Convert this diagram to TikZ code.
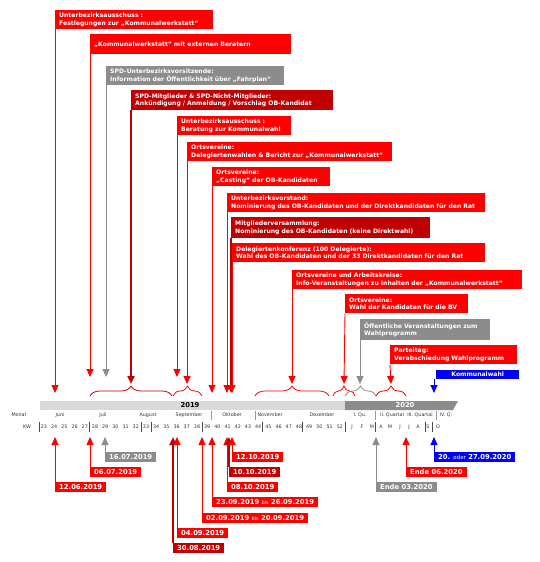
\documentclass[tikz,border=0pt]{standalone}
\usepackage{fontspec}
\setmainfont{DejaVu Sans}
\usetikzlibrary{arrows.meta,decorations.pathreplacing}
\definecolor{spdred}{HTML}{FF0000}
\definecolor{spddark}{HTML}{C00000}
\definecolor{spdgray}{HTML}{8C8C8C}
\definecolor{spdblue}{HTML}{0000FF}
\definecolor{barlight}{HTML}{D9D9D9}
\begin{document}
\begin{tikzpicture}[x=1pt,y=-1pt,
box/.style={fill=spdred,text=white,anchor=north west,align=left,inner xsep=4pt,inner ysep=1pt,minimum height=19pt,font=\bfseries\fontsize{6.1}{7.7}\selectfont},
datebox/.style={fill=spdred,text=white,anchor=north west,inner xsep=4pt,inner ysep=0pt,minimum height=10pt,font=\bfseries\fontsize{6.8}{7}\selectfont},
arr/.style={draw=spdred,line width=0.9pt,-{Triangle[width=7pt,length=8pt]}},
heavy/.style={line width=2pt},
bracket/.style={draw=spdred,line width=0.8pt,decorate,decoration={brace,amplitude=10pt}},
tl/.style={font=\fontsize{4.8}{5}\selectfont,inner sep=0pt,text=black!80}
]
\fill[white] (0,0) rectangle (540,562);
\useasboundingbox (0,0) rectangle (540,562);

\node (1)[box,text width=150pt] at (55,10) {Unterbezirksausschuss :\\Festlegungen zur „Kommunalwerkstatt“};
\node (2)[box,text width=193pt,minimum height=20pt] at (90,34) {„Kommunalwerkstatt“ mit externen Beratern};
\node (3)[box,text width=170pt,fill=spdgray] at (106,66) {SPD-Unterbezirksvorsitzende:\\Information der Öffentlichkeit über „Fahrplan“};
\node (4)[box,text width=194pt,fill=spddark,minimum height=20pt] at (131,90) {SPD-Mitglieder \& SPD-Nicht-Mitglieder:\\Ankündigung / Anmeldung / Vorschlag OB-Kandidat};
\node (5)[box,text width=106pt] at (177,116) {Unterbezirksausschuss :\\Beratung zur Kommunalwahl};
\node (6)[box,text width=197pt] at (187,142) {Ortsvereine:\\Delegiertenwahlen \& Bericht zur „Kommunalwerkstatt“};
\node (7)[box,text width=110pt] at (212,167) {Ortsvereine:\\„Casting“ der OB-Kandidaten};
\node (8)[box,text width=250pt] at (227,193) {Unterbezirksvorstand:\\Nominierung des OB-Kandidaten und der Direktkandidaten für den Rat};
\node (9)[box,text width=191pt,fill=spddark,minimum height=21pt] at (231,217) {Mitgliederversammlung:\\Nominierung des OB-Kandidaten (keine Direktwahl)};
\node (10)[box,text width=245pt] at (232,243) {Delegiertenkonferenz (100 Delegierte):\\Wahl des OB-Kandidaten und der 33 Direktkandidaten für den Rat};
\node (11)[box,text width=222pt] at (292,270) {Ortsvereine und Arbeitskreise:\\Info-Veranstaltungen zu Inhalten der „Kommunalwerkstatt“};
\node (12)[box,text width=115pt] at (345,294) {Ortsvereine:\\Wahl der Kandidaten für die BV};
\node (13)[box,text width=122pt,fill=spdgray,minimum height=21pt] at (360,319) {Öffentliche Veranstaltungen zum\\Wahlprogramm};
\node (14)[box,text width=119pt] at (390,345) {Parteitag:\\Verabschiedung Wahlprogramm};
\node (15)[box,text width=75pt,fill=spdblue,align=center,minimum height=9pt,inner ysep=0pt] at (436,370) {Kommunalwahl};

\coordinate (p1) at (55,393);
\coordinate (p2) at (90,377);
\coordinate (p3) at (106,377);
\coordinate (p4) at (131,384);
\coordinate (p5) at (177,377);
\coordinate (p6) at (187,384);
\coordinate (p7) at (212,393);
\coordinate (p8) at (227,393);
\coordinate (p9) at (231,393);
\coordinate (p10) at (232,393);
\coordinate (p11) at (292,384);
\coordinate (p12) at (344,384);
\coordinate (p13) at (360,384);
\coordinate (p14) at (391,384);
\coordinate (p15) at (434,393);

\draw[arr] (1.south west) -- (p1);
\draw[arr] (2.south west) -- (p2);
\draw[arr,draw=spdgray] (3.south west) -- (p3);
\draw[arr,draw=spddark,heavy] (4.south west) -- (p4);
\draw[arr] (5.south west) -- (p5);
\draw[arr] (6.south west) -- (p6);
\draw[arr] (7.south west) -- (p7);
\draw[arr] (8.south west) -- (p8);
\draw[arr,draw=spddark,heavy] (9.south west) -- (p9);
\draw[arr] (10.south west) -- (p10);
\draw[arr] (11.south west) -- (p11);
\draw[arr] (12.south west) -- (p12);
\draw[arr,draw=spdgray] (13.south west) -- (p13);
\draw[arr] (14.south west) -- (p14);
\draw[arr,draw=spdblue] (15.south west) ++(-2,0) -- (p15);

\coordinate (b1a) at (90,396);
\coordinate (b1b) at (172,396);
\coordinate (b2a) at (173,396);
\coordinate (b2b) at (202,396);
\coordinate (b3a) at (255,396);
\coordinate (b3b) at (329,396);
\coordinate (b4a) at (333,396);
\coordinate (b4b) at (355,396);
\coordinate (b5a) at (345,396);
\coordinate (b5b) at (376,396);
\coordinate (b6a) at (376,396);
\coordinate (b6b) at (406,396);
\draw[bracket,draw=spddark] (b1a) -- (b1b);
\draw[bracket] (b2a) -- (b2b);
\draw[bracket] (b3a) -- (b3b);
\draw[bracket] (b4a) -- (b4b);
\draw[bracket,draw=spdgray] (b5a) -- (b5b);
\draw[bracket] (b6a) -- (b6b);

\fill[barlight] (40,401) rectangle (345,410);
\fill[spdgray] (345,401) -- (458,401) -- (453,410) -- (345,410) -- cycle;
\node (y19)[font=\bfseries\fontsize{6.8}{7}\selectfont,inner sep=0pt] at (190,405.5) {2019};
\node (y20)[font=\bfseries\fontsize{6.8}{7}\selectfont,inner sep=0pt,text=white] at (405,405.5) {2020};

\node (mon0)[tl] at (19,415) {Monat};
\node (mon1)[tl] at (60,415) {Juni};
\node (mon2)[tl] at (103,415) {Juli};
\node (mon3)[tl] at (148,415) {August};
\node (mon4)[tl] at (189,415) {September};
\node (mon5)[tl] at (232,415) {Oktober};
\node (mon6)[tl] at (270,415) {November};
\node (mon7)[tl] at (322,415) {Dezember};
\node (mon8)[tl] at (360,415) {I. Qu.};
\node (mon9)[tl] at (392,415) {II. Quartal};
\node (mon10)[tl] at (420,415) {III. Quartal};
\node (mon11)[tl] at (446,415) {IV. Q.};
\node (kw)[tl] at (27,427) {KW};
\foreach \n in {23,...,52}
  \node (w\n)[tl] at ({44+(\n-23)*10.2},427) {\n};
\foreach \m/\x in {J/352,F/362,M/372,A/381,M/390,J/400,J/409,A/418,S/428,O/438}
  \node (k\x)[tl] at (\x,427) {\m};
\foreach \x in {39,89,141,151,202,262,302,345,375,425,432}
  \draw[black!70,line width=0.4pt] (\x,422) -- (\x,432);
\foreach \x in {211,255,375,436}
  \draw[black!40,line width=0.4pt] (\x,411) -- (\x,420);

\node (16)[datebox] at (55,482) {12.06.2019};
\node (17)[datebox] at (90,467) {06.07.2019};
\node (18)[datebox,fill=spdgray] at (105,452) {16.07.2019};
\node (19)[datebox,fill=spddark] at (173,543) {30.08.2019};
\node (20)[datebox] at (177,528) {04.09.2019};
\node (21)[datebox] at (202,513) {02.09.2019 {\mdseries\fontsize{5}{5}\selectfont bis} 20.09.2019};
\node (22)[datebox] at (212,497) {23.09.2019 {\mdseries\fontsize{5}{5}\selectfont bis} 26.09.2019};
\node (23)[datebox] at (227,482) {08.10.2019};
\node (24)[datebox,fill=spddark] at (229,467) {10.10.2019};
\node (25)[datebox] at (232,452) {12.10.2019};
\node (26)[datebox,fill=spdgray] at (376,482) {Ende 03.2020};
\node (27)[datebox] at (406,467) {Ende 06.2020};
\node (28)[datebox,fill=spdblue] at (434,452) {20. {\mdseries\fontsize{5.5}{5}\selectfont oder} 27.09.2020};

\coordinate (q16) at (55,437);
\coordinate (q17) at (90,437);
\coordinate (q18) at (105,437);
\coordinate (q19) at (173,437);
\coordinate (q20) at (177,437);
\coordinate (q21) at (202,437);
\coordinate (q22) at (212,437);
\coordinate (q23) at (227,437);
\coordinate (q24) at (229,437);
\coordinate (q25) at (232,437);
\coordinate (q26) at (376,437);
\coordinate (q27) at (406,437);
\coordinate (q28) at (434,437);
\draw[arr] (16.north west) -- (q16);
\draw[arr] (17.north west) -- (q17);
\draw[arr,draw=spdgray] (18.north west) -- (q18);
\draw[arr,draw=spddark,heavy] (19.north west) -- (q19);
\draw[arr] (20.north west) -- (q20);
\draw[arr] (21.north west) -- (q21);
\draw[arr] (22.north west) -- (q22);
\draw[arr] (23.north west) -- (q23);
\draw[arr,draw=spddark,heavy] (24.north west) -- (q24);
\draw[arr] (25.north west) -- (q25);
\draw[arr,draw=spdgray] (26.north west) -- (q26);
\draw[arr] (27.north west) -- (q27);
\draw[arr,draw=spdblue] (28.north west) -- (q28);
\end{tikzpicture}
\end{document}
